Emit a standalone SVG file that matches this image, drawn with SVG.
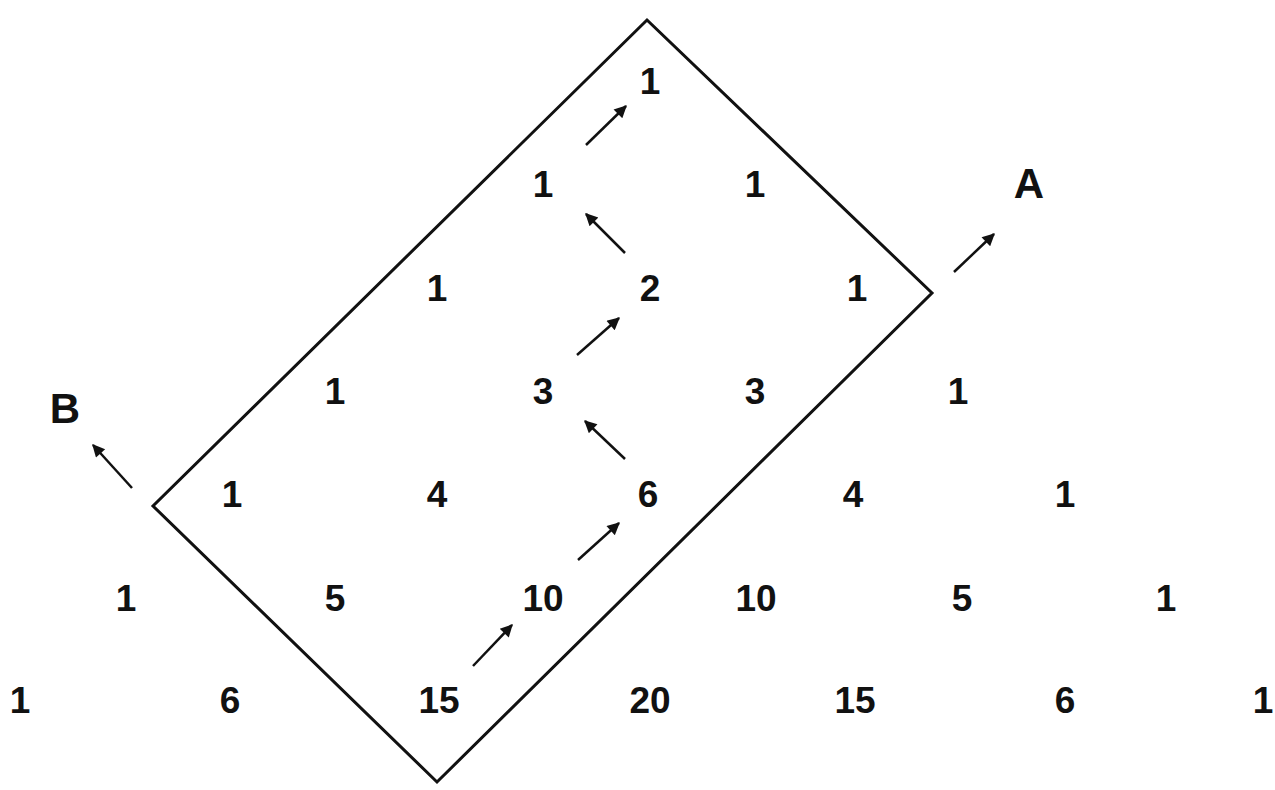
<svg xmlns="http://www.w3.org/2000/svg" width="1275" height="790" viewBox="0 0 1275 790">
<style>
.n{font-family:"Liberation Sans",Arial,sans-serif;font-size:37px;font-weight:bold;fill:#111;text-anchor:middle}
.l{font-family:"Liberation Sans",Arial,sans-serif;font-size:42px;font-weight:bold;fill:#111;text-anchor:middle}
.a{stroke:#111;stroke-width:2.5;fill:none;marker-end:url(#ah)}
</style>
<defs>
<marker id="ah" viewBox="0 0 10 10" refX="9" refY="5" markerWidth="6" markerHeight="5" markerUnits="strokeWidth" orient="auto">
<path d="M0,0 L10,5 L0,10 z" fill="#111"/>
</marker>
</defs>
<rect width="1275" height="790" fill="#fff"/>
<g id="rectangle">
<polygon points="647,20 932,293 437,782 153,506" fill="none" stroke="#111" stroke-width="3"/>
</g>
<g id="numbers">
<text class="n" x="650" y="94">1</text>
<text class="n" x="543" y="197">1</text>
<text class="n" x="755" y="197">1</text>
<text class="n" x="437" y="301">1</text>
<text class="n" x="650" y="301">2</text>
<text class="n" x="857" y="301">1</text>
<text class="n" x="335" y="404">1</text>
<text class="n" x="543" y="404">3</text>
<text class="n" x="755" y="404">3</text>
<text class="n" x="958" y="404">1</text>
<text class="n" x="232" y="507">1</text>
<text class="n" x="437" y="507">4</text>
<text class="n" x="648" y="507">6</text>
<text class="n" x="853" y="507">4</text>
<text class="n" x="1065" y="507">1</text>
<text class="n" x="126" y="611">1</text>
<text class="n" x="335" y="611">5</text>
<text class="n" x="543" y="611">10</text>
<text class="n" x="756" y="611">10</text>
<text class="n" x="962" y="611">5</text>
<text class="n" x="1166" y="611">1</text>
<text class="n" x="20" y="713">1</text>
<text class="n" x="230" y="713">6</text>
<text class="n" x="439" y="713">15</text>
<text class="n" x="650" y="713">20</text>
<text class="n" x="855" y="713">15</text>
<text class="n" x="1065" y="713">6</text>
<text class="n" x="1263" y="713">1</text>
</g>
<g id="labels">
<text class="l" x="1029" y="198">A</text>
<text class="l" x="65" y="423">B</text>
</g>
<g id="connectors">
<line class="a" x1="586" y1="145" x2="626" y2="106"/>
<line class="a" x1="625" y1="253" x2="586" y2="214"/>
<line class="a" x1="577" y1="355" x2="619" y2="318"/>
<line class="a" x1="625" y1="459" x2="585" y2="421"/>
<line class="a" x1="578" y1="560" x2="619" y2="523"/>
<line class="a" x1="473" y1="666" x2="512" y2="625"/>
<line class="a" x1="954" y1="272" x2="994" y2="234"/>
<line class="a" x1="132" y1="488" x2="93" y2="445"/>
</g>
</svg>
